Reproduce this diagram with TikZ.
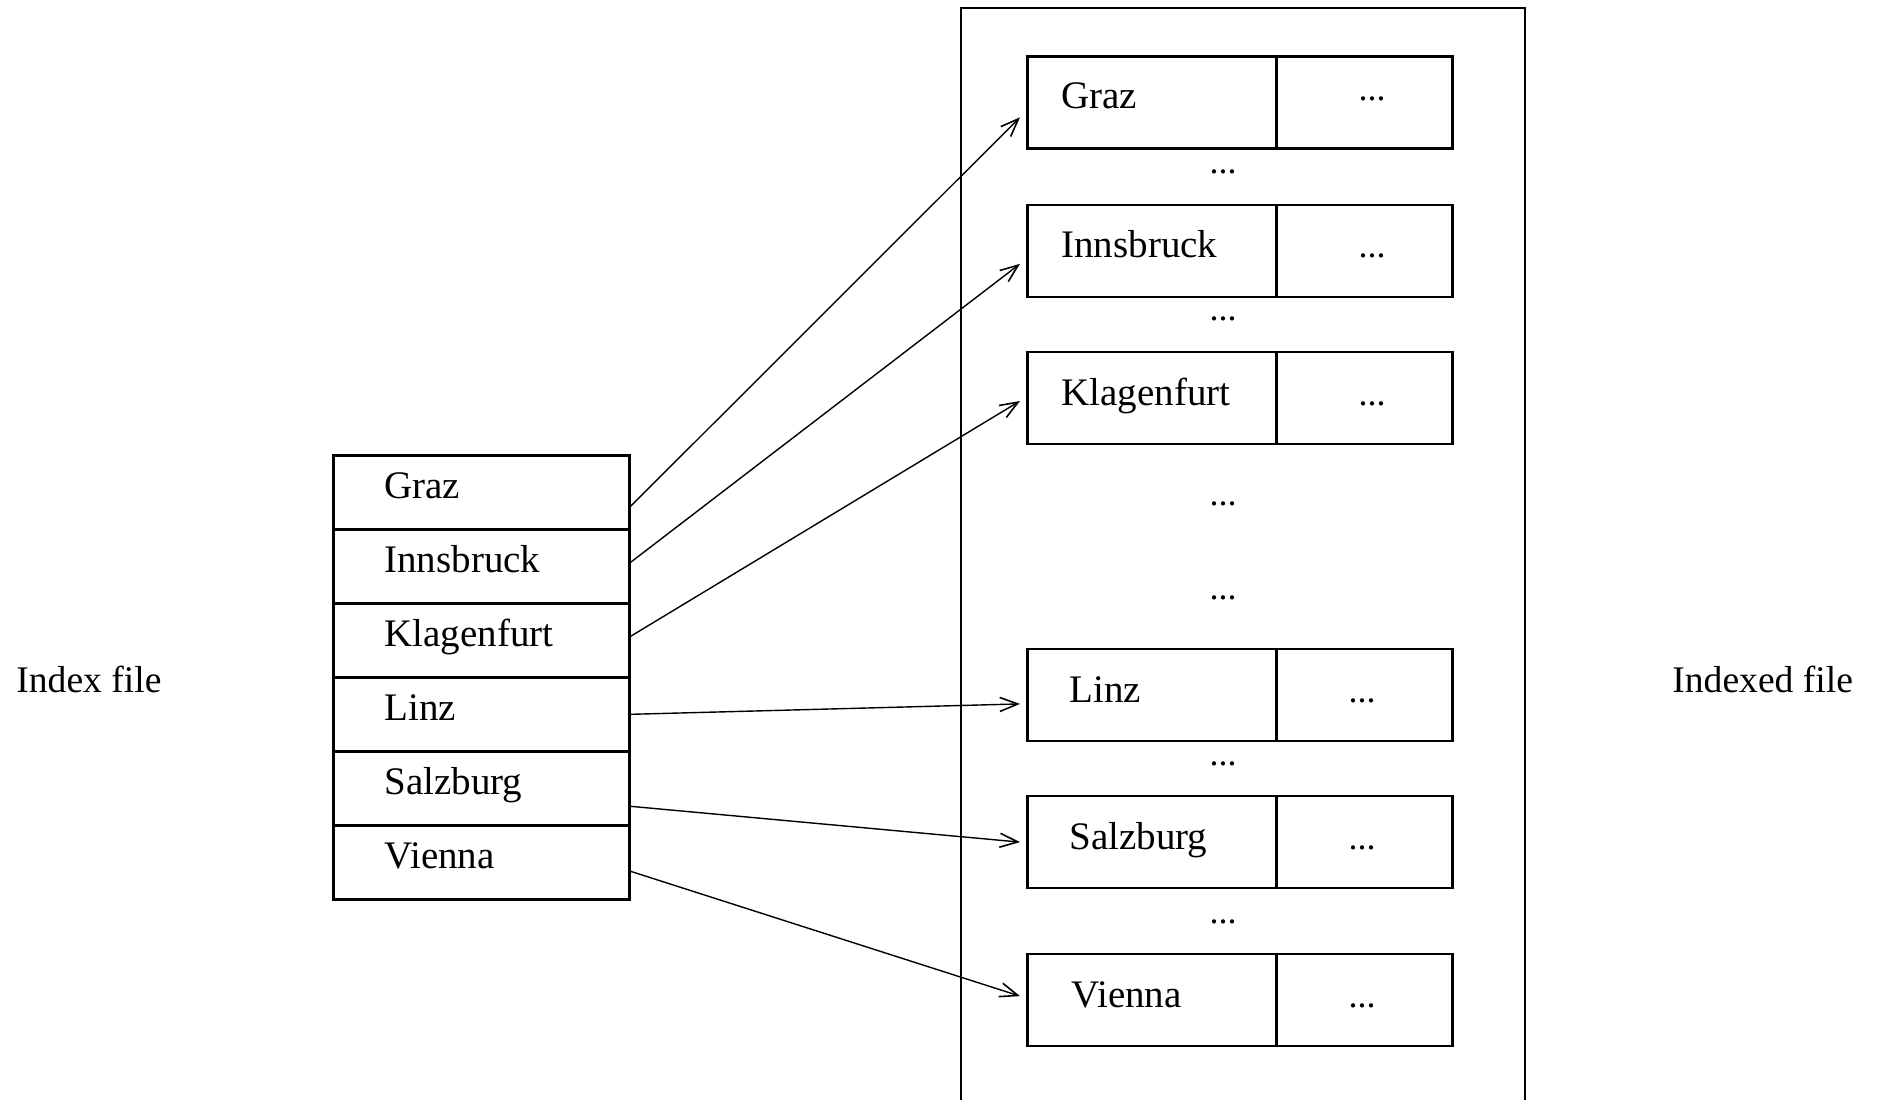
\documentclass[tikz,border=0pt]{standalone}
\usepackage{fontspec}
\setmainfont{Liberation Serif}
\usetikzlibrary{arrows.meta,calc}
\tikzset{
  cell/.style={draw, line width=1.3pt, inner sep=0pt, anchor=north west},
  lrow/.style={cell, minimum width=148pt, minimum height=37pt},
  kcell/.style={cell, minimum width=124.5pt, minimum height=46pt},
  vcell/.style={cell, minimum width=88pt, minimum height=46pt},
  txt/.style={anchor=base west, inner sep=0pt, font=\fontsize{19.5}{24}\selectfont},
  side/.style={txt, font=\fontsize{18.8}{23}\selectfont},
  dots/.style={anchor=base, inner sep=0pt, font=\fontsize{18}{22}\selectfont},
  ptr/.style={line width=0.7pt, -{Straight Barb[length=9pt,width=7pt,line width=0.8pt]}},
  frame/.style={line width=0.9pt}
}
\begin{document}
\begin{tikzpicture}[x=0.5pt,y=-0.5pt]
\useasboundingbox (0,0) rectangle (1877,1099);
% indexed file frame
\draw[frame] (961,1110) |- (1525,8) -- (1525,1110);
% side labels
\node[side] (lidx) at (16,692) {Index file};
\node[side] (lidxd) at (1672,692) {Indexed file};
% index table
\node[lrow] (lgraz) at (332,454) {};
\node[lrow] (linns) at (332,528) {};
\node[lrow] (lklag) at (332,602) {};
\node[lrow] (llinz) at (332,676) {};
\node[lrow] (lsalz) at (332,750) {};
\node[lrow] (lvien) at (332,824) {};
\node[txt] (tlgraz) at (384,498) {Graz};
\node[txt] (tlinns) at (384,572) {Innsbruck};
\node[txt] (tlklag) at (384,646) {Klagenfurt};
\node[txt] (tllinz) at (384,720) {Linz};
\node[txt] (tlsalz) at (384,794) {Salzburg};
\node[txt] (tlvien) at (384,868) {Vienna};
% records
\node[kcell] (rgraz) at (1026,55) {};
\node[vcell] (vgraz) at (1275,55) {};
\node[kcell] (rinns) at (1026,203.5) {};
\node[vcell] (vinns) at (1275,203.5) {};
\node[kcell] (rklag) at (1026,350.7) {};
\node[vcell] (vklag) at (1275,350.7) {};
\node[kcell] (rlinz) at (1026,647.6) {};
\node[vcell] (vlinz) at (1275,647.6) {};
\node[kcell] (rsalz) at (1026,794.8) {};
\node[vcell] (vsalz) at (1275,794.8) {};
\node[kcell] (rvien) at (1026,952.8) {};
\node[vcell] (vvien) at (1275,952.8) {};
\node[txt] (trgraz) at (1061,108) {Graz};
\node[txt] (trinns) at (1061,257) {Innsbruck};
\node[txt] (trklag) at (1061,405) {Klagenfurt};
\node[txt] (trlinz) at (1069,702) {Linz};
\node[txt] (trsalz) at (1069,849) {Salzburg};
\node[txt] (trvien) at (1071,1007) {Vienna};
\node[dots] (dvgraz) at (1372,100) {...};
\node[dots] (dvinns) at (1372,257) {...};
\node[dots] (dvklag) at (1372,405) {...};
\node[dots] (dvlinz) at (1362,702) {...};
\node[dots] (dvsalz) at (1362,849) {...};
\node[dots] (dvvien) at (1362,1007) {...};
% gap dots
\node[dots] (g1) at (1223,173) {...};
\node[dots] (g2) at (1223,320) {...};
\node[dots] (g3) at (1223,505) {...};
\node[dots] (g4) at (1223,599) {...};
\node[dots] (g5) at (1223,765) {...};
\node[dots] (g6) at (1223,923) {...};
% pointers
\draw[ptr] ($(lgraz.east)+(0,14)$) -- ($(rgraz.west)+(-6,15)$);
\draw[ptr] ($(linns.east)+(0,-4)$) -- ($(rinns.west)+(-6,13)$);
\draw[ptr] ($(lklag.east)+(0,-4)$) -- ($(rklag.west)+(-6,3)$);
\draw[ptr] ($(llinz.east)+(0,0)$) -- ($(rlinz.west)+(-6,9)$);
\draw[ptr] ($(lsalz.east)+(0,18)$) -- ($(rsalz.west)+(-6,0)$);
\draw[ptr] ($(lvien.east)+(0,9)$) -- ($(rvien.west)+(-6,-4)$);
\end{tikzpicture}
\end{document}
